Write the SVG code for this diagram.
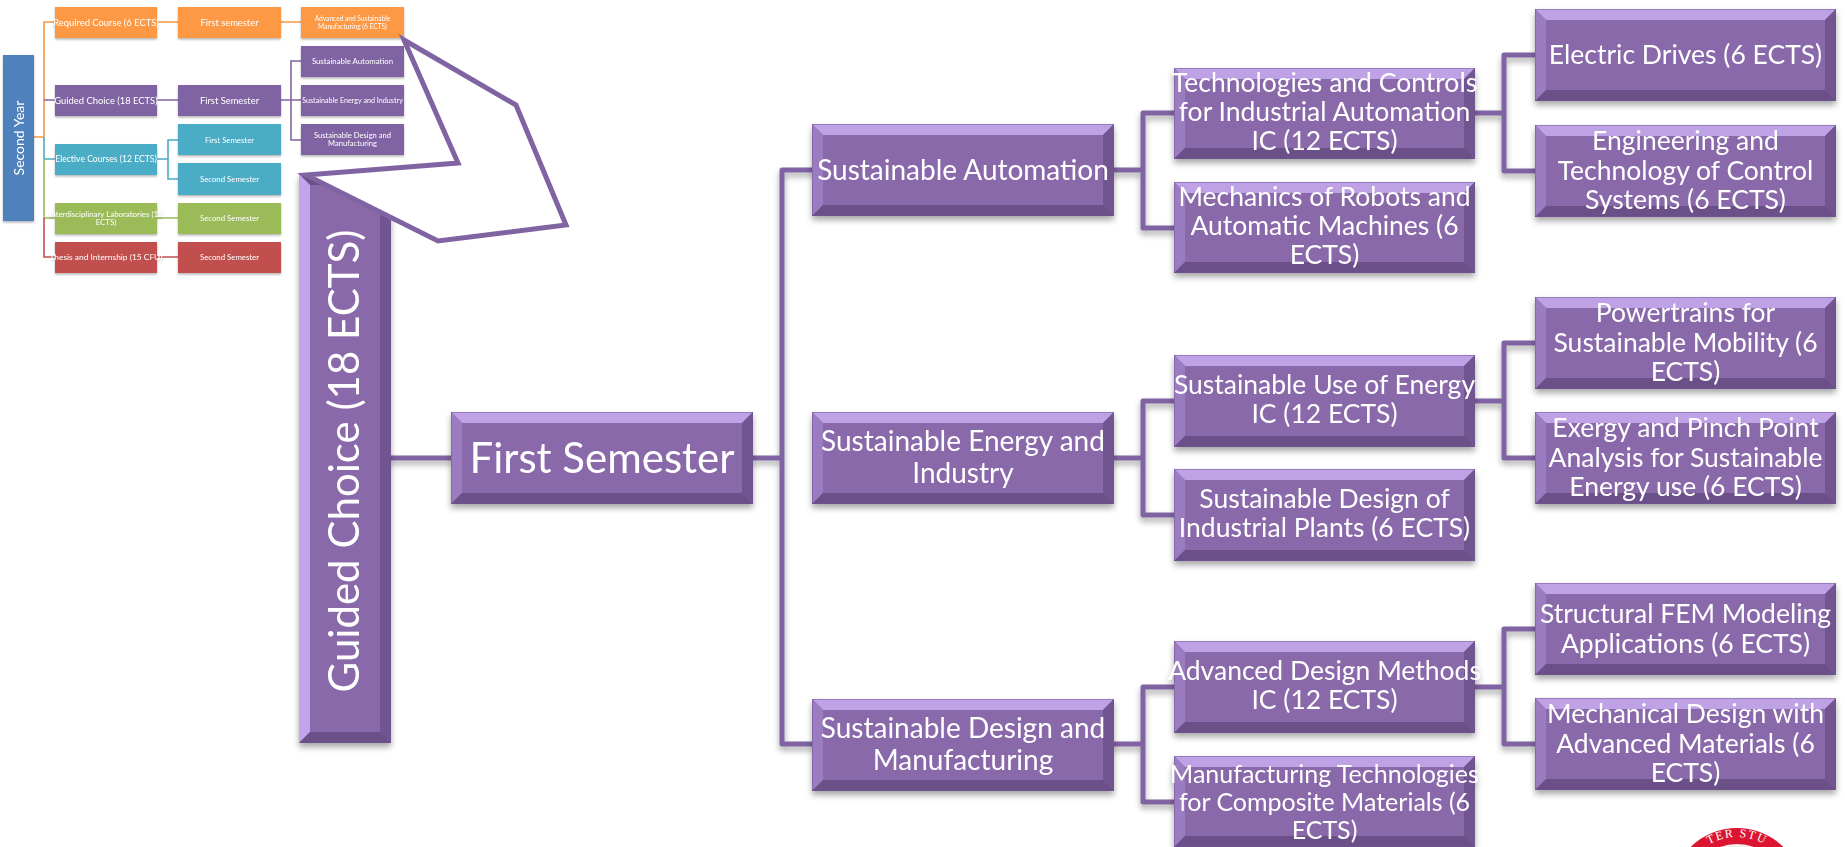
<svg xmlns="http://www.w3.org/2000/svg" width="1845" height="847" viewBox="0 0 1845 847">
<style>
text{font-family:Lato,"Open Sans","Liberation Sans",sans-serif;fill:#fff;text-anchor:middle}
.b{font-size:26.5px}.m{font-size:28px}.h{font-size:42px}
.s{font-size:9.4px}.t{font-size:6.6px}
.c{fill:none;stroke:#8064A2;stroke-width:5;stroke-linejoin:round;stroke-linecap:square}
.d{fill:none;stroke-width:1.6}
.sh{filter:url(#shadow)}
</style>
<defs>
<filter id="shadow" x="-10%" y="-10%" width="120%" height="125%"><feDropShadow dx="0" dy="4" stdDeviation="3" flood-color="#000" flood-opacity=".35"/></filter>
<filter id="shs" x="-10%" y="-10%" width="120%" height="130%"><feDropShadow dx="0" dy="1.5" stdDeviation="1" flood-color="#000" flood-opacity=".3"/></filter>
<symbol id="bev" viewBox="0 0 302 92" preserveAspectRatio="none">
<rect width="302" height="92" fill="#8969AA"/>
<polygon points="0,0 302,0 291,11 11,11" fill="#BFA2E6"/>
<polygon points="0,0 11,11 11,81 0,92" fill="#9C7CC0"/>
<polygon points="302,0 291,11 291,81 302,92" fill="#6F5490"/>
<polygon points="0,92 11,81 291,81 302,92" fill="#6A5089"/>
<rect width="302" height="92" fill="none" stroke="#6F5490" stroke-width="1"/>
</symbol>
</defs>
<rect width="1845" height="847" fill="#fff"/>

<g id="connectors">
<g class="sh">
<path class="c" d="M391 458H451"/>
<path class="c" d="M753 458H782M812 170H782V744H812"/>
<path class="c" d="M1114 170H1143M1174 113H1143V228H1174"/>
<path class="c" d="M1114 458H1143M1174 401H1143V515H1174"/>
<path class="c" d="M1114 744H1143M1174 687H1143V802H1174"/>
<path class="c" d="M1475 113H1504M1535 55H1504V171H1535"/>
<path class="c" d="M1475 401H1504M1535 343H1504V458H1535"/>
<path class="c" d="M1475 687H1504M1535 629H1504V744H1535"/>
</g>
<path class="d" stroke="#F79646" d="M34 137H44V22H55M157 22H178M281 22H301"/>
<path class="d" stroke="#8064A2" d="M44 100H55M157 100H178M281 100H301M301 61H291V140H301"/>
<path class="d" stroke="#4BACC6" d="M44 137V159H55M157 159H168M178 140H168V179H178"/>
<path class="d" stroke="#9BBB59" d="M44 159V218H55M157 218H178"/>
<path class="d" stroke="#C0504D" d="M44 218V257H55M157 257H178"/>
</g>

<g id="second-year" filter="url(#shs)"><rect x="3" y="55" width="31" height="166" fill="#4F81BD"/><text class="s" style="font-size:14px" transform="translate(24 138) rotate(-90)">Second Year</text></g>

<g id="required" filter="url(#shs)"><rect x="55" y="7" width="102" height="31" fill="#FD9844"/><text class="s" x="106" y="25.500">Required Course (6 ECTS)</text></g>
<g id="first-semester-orange" filter="url(#shs)"><rect x="178" y="7" width="103" height="31" fill="#FD9844"/><text class="s" x="229.500" y="25.500">First semester</text></g>
<g id="advanced" filter="url(#shs)"><rect x="301" y="7" width="103" height="31" fill="#FD9844"/><text class="t" x="352.500" y="21">Advanced and Sustainable<tspan x="352.500" dy="7.500">Manufacturing (6 ECTS)</tspan></text></g>

<g id="small-automation" filter="url(#shs)"><rect x="301" y="46" width="103" height="31" fill="#8064A2"/><text class="t" style="font-size:7.800px" x="352.500" y="64">Sustainable Automation</text></g>
<g id="small-guided" filter="url(#shs)"><rect x="55" y="85" width="102" height="31" fill="#8064A2"/><text class="s" x="106" y="103.500">Guided Choice (18 ECTS)</text></g>
<g id="small-first" filter="url(#shs)"><rect x="178" y="85" width="103" height="31" fill="#8064A2"/><text class="s" x="229.500" y="103.500">First Semester</text></g>
<g id="small-energy" filter="url(#shs)"><rect x="301" y="85" width="103" height="31" fill="#8064A2"/><text class="t" style="font-size:7.200px" x="352.500" y="103">Sustainable Energy and Industry</text></g>
<g id="small-design" filter="url(#shs)"><rect x="301" y="124" width="103" height="31" fill="#8064A2"/><text class="t" style="font-size:7.600px" x="352.500" y="138">Sustainable Design and<tspan x="352.500" dy="8">Manufacturing</tspan></text></g>

<g id="elective" filter="url(#shs)"><rect x="55" y="144" width="102" height="31" fill="#4BACC6"/><text class="s" style="font-size:8.600px" x="106" y="162">Elective Courses (12 ECTS)</text></g>
<g id="blue-first" filter="url(#shs)"><rect x="178" y="124" width="103" height="31" fill="#4BACC6"/><text class="t" style="font-size:7.800px" x="229.500" y="142.500">First Semester</text></g>
<g id="blue-second" filter="url(#shs)"><rect x="178" y="163" width="103" height="32" fill="#4BACC6"/><text class="t" style="font-size:7.800px" x="229.500" y="181.500">Second Semester</text></g>
<g id="labs" filter="url(#shs)"><rect x="55" y="203" width="102" height="31" fill="#9BBB59"/><text class="t" style="font-size:7.900px" x="106" y="216.500">Interdisciplinary Laboratories (12<tspan x="106" dy="8">ECTS)</tspan></text></g>
<g id="green-second" filter="url(#shs)"><rect x="178" y="203" width="103" height="31" fill="#9BBB59"/><text class="t" style="font-size:7.800px" x="229.500" y="221">Second Semester</text></g>
<g id="thesis" filter="url(#shs)"><rect x="55" y="242" width="102" height="31" fill="#C0504D"/><text class="s" style="font-size:8.400px" x="106" y="260">Thesis and Internship (15 CFU)</text></g>
<g id="red-second" filter="url(#shs)"><rect x="178" y="242" width="103" height="31" fill="#C0504D"/><text class="t" style="font-size:7.800px" x="229.500" y="260">Second Semester</text></g>

<g id="guided-choice" class="sh">
<rect x="299" y="174" width="92" height="569" fill="#8969AA"/>
<polygon points="299,174 391,174 380,185 310,185" fill="#6B5088"/>
<polygon points="299,174 310,185 310,732 299,743" fill="#C2A5EC"/>
<polygon points="391,174 380,185 380,732 391,743" fill="#6F5490"/>
<polygon points="299,743 310,732 380,732 391,743" fill="#6A5089"/>
<text class="h" transform="translate(359 461) rotate(-90)">Guided Choice (18 ECTS)</text>
</g>

<g id="callout"><polygon points="404,40 516,105 566,225 438,241 306,175 458,163" fill="#fff" stroke="#8064A2" stroke-width="5" stroke-linejoin="miter"/></g>

<g id="first-semester" class="sh"><use href="#bev" x="451" y="412" width="302" height="92"/><text class="h" x="602" y="473">First Semester</text></g>

<g id="automation" class="sh"><use href="#bev" x="812" y="124" width="302" height="92"/><text class="m" x="963" y="180">Sustainable Automation</text></g>
<g id="energy" class="sh"><use href="#bev" x="812" y="412" width="302" height="92"/><text class="m" x="963" y="451">Sustainable Energy and<tspan x="963" dy="32">Industry</tspan></text></g>
<g id="design" class="sh"><use href="#bev" x="812" y="699" width="302" height="92"/><text class="m" x="963" y="738">Sustainable Design and<tspan x="963" dy="32">Manufacturing</tspan></text></g>

<g id="tech" class="sh"><use href="#bev" x="1174" y="68" width="301" height="91"/><text class="b" x="1324.500" y="92">Technologies and Controls<tspan x="1324.500" dy="29">for Industrial Automation</tspan><tspan x="1324.500" dy="29">IC (12 ECTS)</tspan></text></g>
<g id="robots" class="sh"><use href="#bev" x="1174" y="182" width="301" height="91"/><text class="b" x="1324.500" y="206">Mechanics of Robots and<tspan x="1324.500" dy="29">Automatic Machines (6</tspan><tspan x="1324.500" dy="29">ECTS)</tspan></text></g>
<g id="energy-use" class="sh"><use href="#bev" x="1174" y="355" width="301" height="92"/><text class="b" x="1324.500" y="394">Sustainable Use of Energy<tspan x="1324.500" dy="29">IC (12 ECTS)</tspan></text></g>
<g id="plants" class="sh"><use href="#bev" x="1174" y="469" width="301" height="92"/><text class="b" x="1324.500" y="508">Sustainable Design of<tspan x="1324.500" dy="29">Industrial Plants (6 ECTS)</tspan></text></g>
<g id="methods" class="sh"><use href="#bev" x="1174" y="641" width="301" height="92"/><text class="b" x="1324.500" y="680">Advanced Design Methods<tspan x="1324.500" dy="29">IC (12 ECTS)</tspan></text></g>
<g id="composite" class="sh"><use href="#bev" x="1174" y="756" width="301" height="91"/><text class="b" style="font-size:25px" x="1324.500" y="783">Manufacturing Technologies<tspan x="1324.500" dy="28">for Composite Materials (6</tspan><tspan x="1324.500" dy="28">ECTS)</tspan></text></g>

<g id="drives" class="sh"><use href="#bev" x="1535" y="9" width="301" height="92"/><text class="b" x="1685.500" y="64">Electric Drives (6 ECTS)</text></g>
<g id="control" class="sh"><use href="#bev" x="1535" y="125" width="301" height="92"/><text class="b" x="1685.500" y="150">Engineering and<tspan x="1685.500" dy="29.500">Technology of Control</tspan><tspan x="1685.500" dy="29.500">Systems (6 ECTS)</tspan></text></g>
<g id="powertrains" class="sh"><use href="#bev" x="1535" y="297" width="301" height="92"/><text class="b" x="1685.500" y="322">Powertrains for<tspan x="1685.500" dy="29.500">Sustainable Mobility (6</tspan><tspan x="1685.500" dy="29.500">ECTS)</tspan></text></g>
<g id="exergy" class="sh"><use href="#bev" x="1535" y="412" width="301" height="92"/><text class="b" x="1685.500" y="437">Exergy and Pinch Point<tspan x="1685.500" dy="29.500">Analysis for Sustainable</tspan><tspan x="1685.500" dy="29.500">Energy use (6 ECTS)</tspan></text></g>
<g id="fem" class="sh"><use href="#bev" x="1535" y="583" width="301" height="92"/><text class="b" x="1685.500" y="623">Structural FEM Modeling<tspan x="1685.500" dy="29.500">Applications (6 ECTS)</tspan></text></g>
<g id="materials" class="sh"><use href="#bev" x="1535" y="698" width="301" height="92"/><text class="b" x="1685.500" y="723">Mechanical Design with<tspan x="1685.500" dy="29.500">Advanced Materials (6</tspan><tspan x="1685.500" dy="29.500">ECTS)</tspan></text></g>

<circle cx="1737" cy="894" r="66" fill="#DC1431"/>
<circle cx="1737" cy="894" r="50" fill="#eee"/>
<path id="arc" d="M1680 894A57 57 0 0 1 1794 894" fill="none"/>
<text style="font-family:'Liberation Serif',serif;font-size:12px;letter-spacing:1.500px"><textPath href="#arc" startOffset="50%">TER STU</textPath></text>
</svg>
